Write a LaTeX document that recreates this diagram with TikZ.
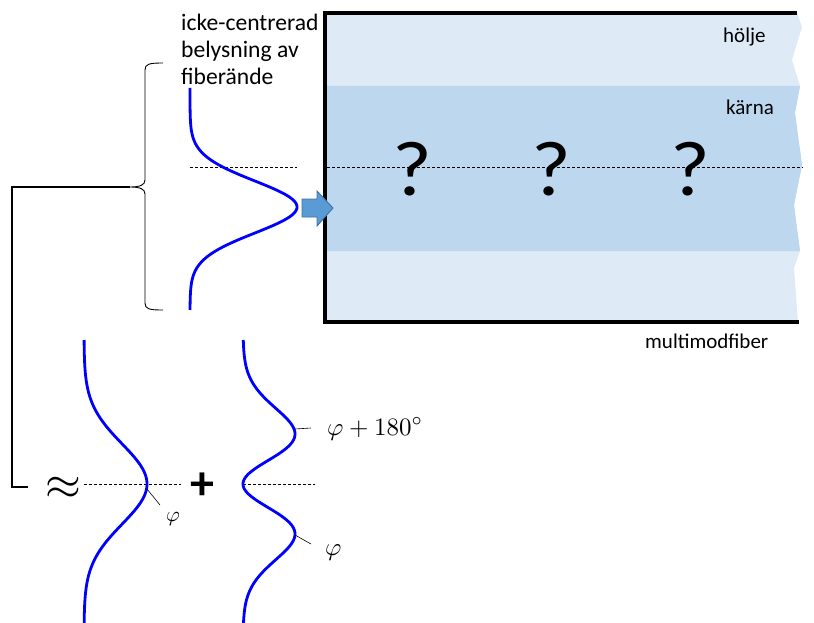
\documentclass[tikz,border=0pt]{standalone}
\usepackage[no-math]{fontspec}
\usepackage{graphicx}
\setmainfont{Carlito}
\begin{document}
\begin{tikzpicture}[x=1pt,y=-1pt,
  curve/.style={draw=blue, line width=2.8pt},
  dashline/.style={draw=black, line width=0.8pt, dash pattern=on 3pt off 2pt},
  fiberedge/.style={draw=black, line width=3.6pt},
  thin/.style={draw=black, line width=0.9pt},
  tick/.style={draw=black, line width=0.6pt},
  lbl/.style={inner sep=0pt, font=\fontsize{21}{27}\selectfont},
  qm/.style={inner sep=0pt, font=\fontsize{78}{80}\selectfont},
  phil/.style={inner sep=0pt, font=\fontsize{10}{12}\selectfont},
]
\useasboundingbox (0,0) rectangle (814,623);
\definecolor{clad}{HTML}{DEEAF6}
\definecolor{core}{HTML}{BDD7EE}
\definecolor{arrowfill}{HTML}{5B9BD5}
\definecolor{arrowline}{HTML}{41719C}

% fiber body
\fill[clad] (325,13) -- (797,13) -- (802,27) -- (792,60) -- (800,86) -- (795,113) -- (802,165)
  -- (794,205) -- (800,251) -- (794,268) -- (798,322) -- (325,322) -- cycle;
\fill[core] (325,86) -- (800,86) -- (795,113) -- (802,165) -- (794,205) -- (800,251) -- (325,251) -- cycle;
\draw[fiberedge] (797,13) -- (325,13) -- (325,322) -- (799,322);

% dashed axes
\coordinate (dA1) at (190,167); \coordinate (dA2) at (297,167);
\coordinate (dB1) at (327,167); \coordinate (dB2) at (803,167);
\draw[dashline] (dA1) -- (dA2);
\draw[dashline] (dB1) -- (dB2);

% question marks
\node[qm, anchor=base] (q1) at (412,195) {\scalebox{1.1}[1]{?}};
\node[qm, anchor=base] (q2) at (551,195) {\scalebox{1.1}[1]{?}};
\node[qm, anchor=base] (q3) at (690,195) {\scalebox{1.1}[1]{?}};

% labels in fiber
\node[lbl, anchor=base west] (holje) at (723,43) {hölje};
\node[lbl, anchor=base west] (karna) at (726,115) {kärna};
\node[lbl, anchor=base west] (mmf) at (645,348) {multimodfiber};

% top-left label
\node[lbl, font=\fontsize{23.6}{27}\selectfont, anchor=north west, align=left] (ill) at (181,14) {icke-centrerad\\belysning av\\fiberände};

% input profile
\draw[curve] plot[domain=88:310, samples=160, smooth] ({190+107*exp(-0.5*((\x-207)/26)^2)}, \x);

% input arrow
\draw[fill=arrowfill, draw=arrowline, line width=0.9pt]
  (302,199) -- (317,199) -- (317,191) -- (333,208) -- (317,226) -- (317,217) -- (302,217) -- cycle;

% brace
\coordinate (bt) at (163,63);
\coordinate (bb) at (163,310);
\coordinate (bp) at (130,187);
\draw[thin] (bt) .. controls (149,63) and (145,64) .. (145,70) -- (145,180)
  .. controls (145,185) and (140,187) .. (bp)
  .. controls (140,187) and (145,189) .. (145,194) -- (145,303)
  .. controls (145,309) and (149,310) .. (bb);

% connector from brace down to approx
\coordinate (c1) at (12,187);
\coordinate (c2) at (12,487);
\coordinate (c3) at (28,487);
\draw[thin, line width=1.3pt] (bp) -- (c1) -- (c2) -- (c3);

% approx sign and plus
\node[inner sep=0pt, font=\fontsize{10}{12}\selectfont] (approx) at (63,488) {\scalebox{4.6}{$\approx$}};
\node[inner sep=0pt, font=\fontsize{48}{50}\selectfont\bfseries] (plus) at (202,486) {+};

% lower dashed lines
\coordinate (dC1) at (84,484); \coordinate (dC2) at (181,484);
\coordinate (dD1) at (243,484); \coordinate (dD2) at (315,484);
\draw[dashline] (dC1) -- (dC2);
\draw[dashline] (dD1) -- (dD2);

% symmetric component
\draw[curve] plot[domain=340:623, samples=160, smooth] ({84+63*exp(-0.5*((\x-484)/40)^2)}, \x);
% antisymmetric component
\draw[curve] plot[domain=340:623, samples=200, smooth] ({243+52*((\x-484)/50)^2*exp(1-((\x-484)/50)^2)}, \x);

% phase labels
\coordinate (t1a) at (147,489); \coordinate (t1b) at (160,505);
\draw[tick] (t1a) -- (t1b);
\node[phil, anchor=base west] (phi1) at (166,521) {\scalebox{2.1}{$\varphi$}};

\coordinate (t2a) at (295,429); \coordinate (t2b) at (311,428);
\draw[tick] (t2a) -- (t2b);
\node[phil, anchor=base west] (phi2) at (327,435) {\scalebox{2.5}{$\varphi+180^\circ$}};

\coordinate (t3a) at (295,535); \coordinate (t3b) at (311,544);
\draw[tick] (t3a) -- (t3b);
\node[phil, anchor=base west] (phi3) at (325,555) {\scalebox{2.5}{$\varphi$}};
\end{tikzpicture}
\end{document}
